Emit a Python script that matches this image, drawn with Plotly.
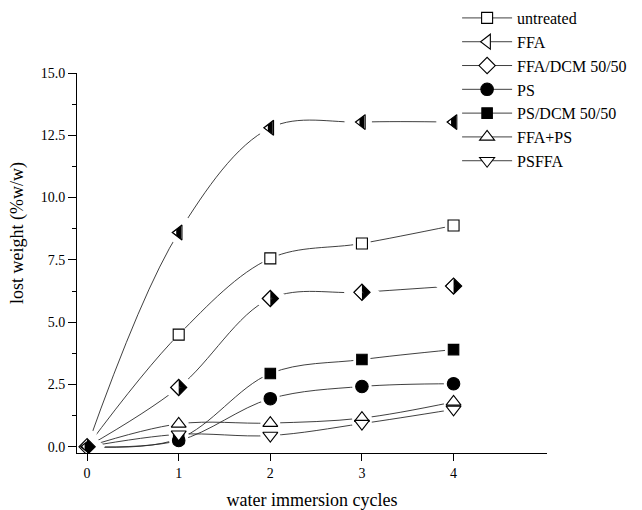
import plotly.graph_objects as go

# ---------------- data ----------------
cycles = [0, 1, 2, 3, 4]
untreated = [0.0, 4.50, 7.56, 8.16, 8.88]
ffa = [0.0, 8.60, 12.80, 13.03, 13.03]
ffa_dcm = [0.0, 2.38, 5.95, 6.20, 6.45]
ps = [0.0, 0.25, 1.93, 2.42, 2.53]
ps_dcm = [0.0, 0.32, 2.94, 3.50, 3.90]
ffa_ps = [0.0, 0.92, 0.95, 1.15, 1.80]
psffa = [0.0, 0.50, 0.45, 0.93, 1.50]

series_names = ["untreated", "FFA", "FFA/DCM 50/50", "PS", "PS/DCM 50/50", "FFA+PS", "PSFFA"]
series_values = [untreated, ffa, ffa_dcm, ps, ps_dcm, ffa_ps, psffa]

x_tickvals = [0, 1, 2, 3, 4]
y_tickvals = [0.0, 2.5, 5.0, 7.5, 10.0, 12.5, 15.0]
y_ticktext = ["0.0", "2.5", "5.0", "7.5", "10.0", "12.5", "15.0"]

x_title = "water immersion cycles"
y_title = "lost weight (%w/w)"

# ---------------- styles ----------------
SERIF = "Liberation Serif, Times New Roman, serif"
LINE_COLOR = "#2a2a2a"
styles = {
    "untreated": dict(symbol="square", size=11, fill="white"),
    "FFA": dict(symbol="triangle-left", size=13, fill="white"),
    "FFA/DCM 50/50": dict(symbol="diamond", size=12.5, fill="white"),
    "PS": dict(symbol="circle", size=12.5, fill="black"),
    "PS/DCM 50/50": dict(symbol="square", size=10.5, fill="black"),
    "FFA+PS": dict(symbol="triangle-up", size=13, fill="white"),
    "PSFFA": dict(symbol="triangle-down", size=13, fill="white"),
}

fig = go.Figure()

# 1) curves (also used for the legend)
for name, vals in zip(series_names, series_values):
    st = styles[name]
    fig.add_trace(go.Scatter(
        x=cycles, y=vals, name=name, mode="lines+markers",
        line=dict(color=LINE_COLOR, width=0.9, shape="spline", smoothing=1.0),
        marker=dict(symbol=st["symbol"], size=st["size"], color=st["fill"],
                    line=dict(color="black", width=1.1)),
        hoverinfo="skip",
    ))

# 2) white halos: gap of the curves around the symbols
for name, vals in zip(series_names, series_values):
    fig.add_trace(go.Scatter(
        x=cycles, y=vals, mode="markers", showlegend=False, hoverinfo="skip",
        marker=dict(symbol="circle", size=styles[name]["size"] + 7, color="white",
                    line=dict(width=0)),
    ))

# 3) symbols
for name, vals in zip(series_names, series_values):
    st = styles[name]
    fig.add_trace(go.Scatter(
        x=cycles, y=vals, mode="markers", showlegend=False, hoverinfo="skip",
        marker=dict(symbol=st["symbol"], size=st["size"], color=st["fill"],
                    line=dict(color="black", width=1.1)),
    ))

# half-filled left triangle (FFA): black bar, white clipping band, outline
s_t = styles["FFA"]["size"]
fig.add_trace(go.Scatter(
    x=cycles, y=ffa, mode="markers", showlegend=False, hoverinfo="skip",
    marker=dict(symbol="line-ns", size=s_t * 0.77, color="black",
                line=dict(color="black", width=5)),
))
fig.add_trace(go.Scatter(
    x=cycles, y=ffa, mode="markers", showlegend=False, hoverinfo="skip",
    marker=dict(symbol="triangle-left", size=s_t * 1.88, color="rgba(0,0,0,0)",
                line=dict(color="white", width=7)),
))
fig.add_trace(go.Scatter(
    x=cycles, y=ffa, mode="markers", showlegend=False, hoverinfo="skip",
    marker=dict(symbol="triangle-left", size=s_t, color="rgba(0,0,0,0)",
                line=dict(color="black", width=1.1)),
))

# half-filled diamond (FFA/DCM): fan of black arrows, white clipping band, outline
s_d = styles["FFA/DCM 50/50"]["size"]
for ang in (-63.4, -21.0, 21.0, 63.4):
    fig.add_trace(go.Scatter(
        x=cycles, y=ffa_dcm, mode="markers", showlegend=False, hoverinfo="skip",
        marker=dict(symbol="arrow-left", size=s_d * 0.7, angle=ang, color="black",
                    line=dict(width=0)),
    ))
fig.add_trace(go.Scatter(
    x=cycles, y=ffa_dcm, mode="markers", showlegend=False, hoverinfo="skip",
    marker=dict(symbol="diamond", size=s_d * 1.61, color="rgba(0,0,0,0)",
                line=dict(color="white", width=7)),
))
fig.add_trace(go.Scatter(
    x=cycles, y=ffa_dcm, mode="markers", showlegend=False, hoverinfo="skip",
    marker=dict(symbol="diamond", size=s_d, color="rgba(0,0,0,0)",
                line=dict(color="black", width=1.1)),
))

fig.update_layout(
    width=642, height=510,
    margin=dict(l=77, r=95, t=73, b=57, autoexpand=False),
    paper_bgcolor="white", plot_bgcolor="white",
    font=dict(family=SERIF, color="black"),
    legend=dict(
        xref="container", yref="container", x=0.712, y=0.998,
        xanchor="left", yanchor="top",
        font=dict(family=SERIF, size=16, color="black"),
        bgcolor="rgba(0,0,0,0)", itemwidth=50, tracegroupgap=0,
    ),
    annotations=[dict(
        text=y_title, xref="paper", yref="paper", x=-0.1255, y=0.579,
        xanchor="center", yanchor="middle",
        textangle=-90, showarrow=False, font=dict(family=SERIF, size=18, color="black"),
    )],
)

fig.update_xaxes(
    range=[-0.11, 5.02], tickvals=x_tickvals, ticks="outside", ticklen=7,
    tickcolor="black", showline=True, linecolor="black", linewidth=1,
    showgrid=False, zeroline=False, tickfont=dict(family=SERIF, size=14),
    title=dict(text=x_title, font=dict(family=SERIF, size=18), standoff=13),
)
fig.update_yaxes(
    range=[-0.25, 15.0], tickvals=y_tickvals, ticktext=y_ticktext,
    ticks="outside", ticklen=8, tickcolor="black",
    minor=dict(ticks="outside", ticklen=4, tick0=0, dtick=1.25, tickcolor="black"),
    showline=True, linecolor="black", linewidth=1,
    showgrid=False, zeroline=False, tickfont=dict(family=SERIF, size=14),
)

fig.write_html("out.html")
